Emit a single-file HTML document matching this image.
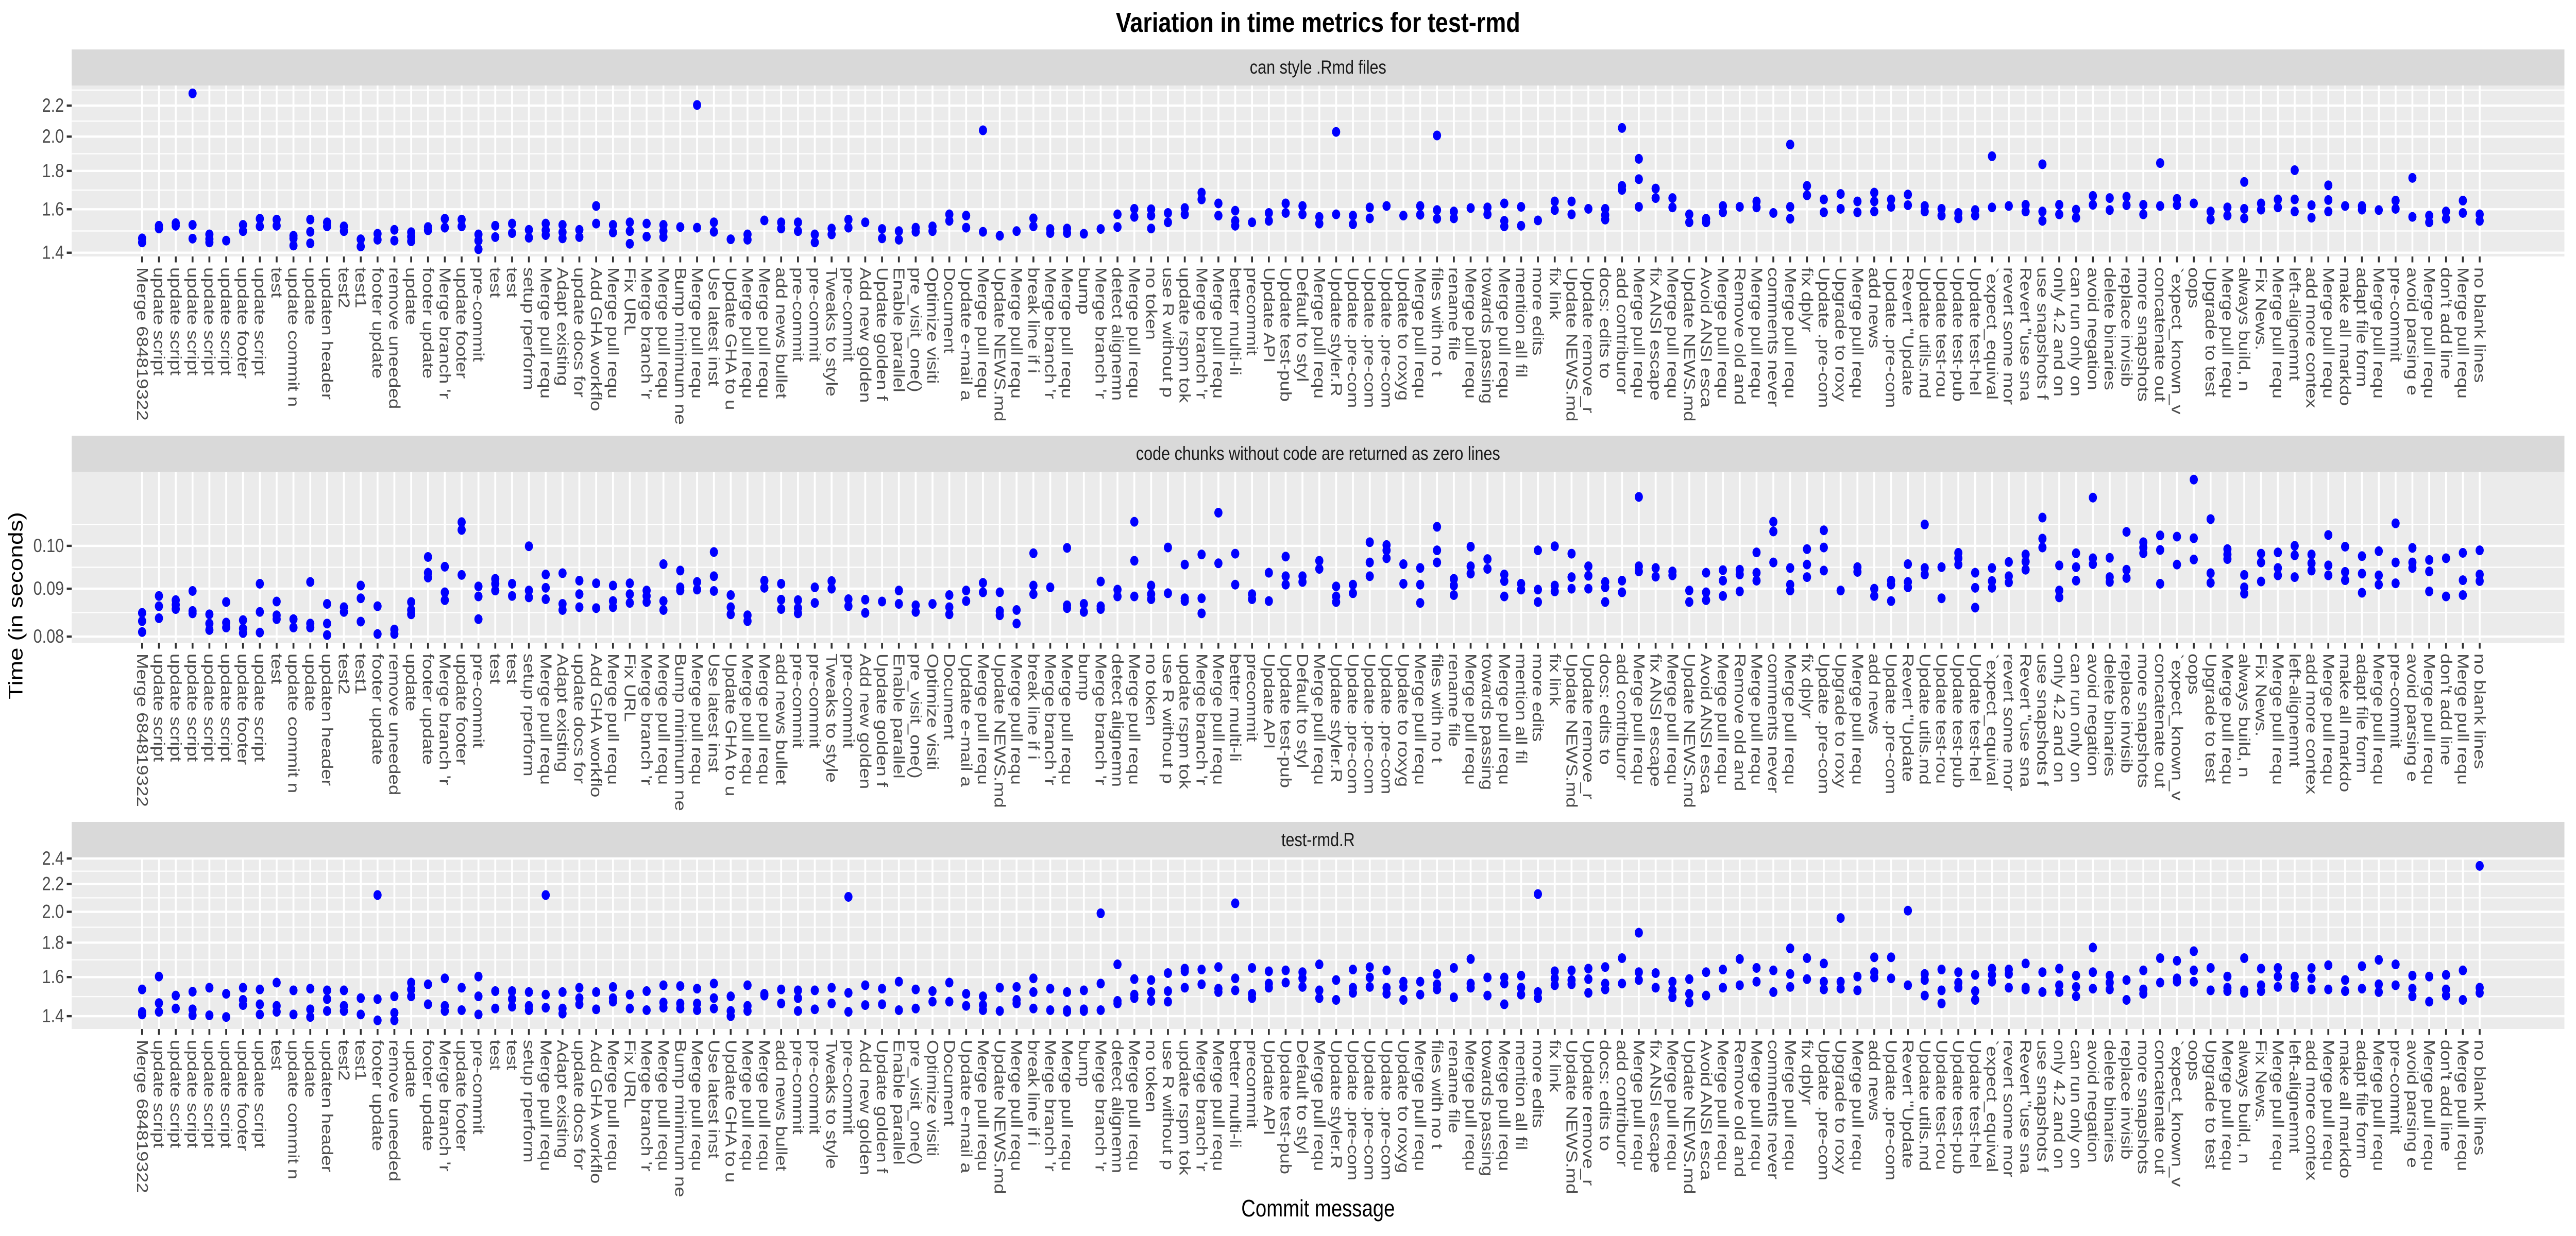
<!DOCTYPE html>
<html><head><meta charset="utf-8"><title>Variation in time metrics for test-rmd</title>
<style>html,body{margin:0;padding:0;background:#fff;width:100%;height:100%;overflow:hidden}svg{display:block;width:100vw;height:100vh}text{font-family:"Liberation Sans",sans-serif}</style>
</head><body>
<svg id="chart" xmlns="http://www.w3.org/2000/svg" viewBox="0 0 6000 2400" preserveAspectRatio="none">
<rect width="6000" height="2400" fill="#fff"/>
<text x="3070" y="62" text-anchor="middle" font-size="54" font-weight="bold" fill="#000">Variation in time metrics for test-rmd</text>
<text transform="translate(52,1176) rotate(-90)" text-anchor="middle" font-size="46" fill="#000">Time (in seconds)</text>
<text x="3070" y="2362" text-anchor="middle" font-size="46" fill="#000">Commit message</text>
<g id="panels"></g>
</svg>
<script>
const categories = ["Merge 684819322","update script","update script","update script","update script","update script","update footer","update script","test","update commit n","update","updaten header","test2","test1","footer update","remove uneeded","update","footer update","Merge branch 'r","update footer","pre-commit","test","test","setup rperform","Merge pull requ","Adapt existing","update docs for","Add GHA workflo","Merge pull requ","Fix URL","Merge branch 'r","Merge pull requ","Bump minimum ne","Merge pull requ","Use latest inst","Update GHA to u","Merge pull requ","Merge pull requ","add news bullet","pre-commit","pre-commit","Tweaks to style","pre-commit","Add new golden","Update golden f","Enable parallel","pre_visit_one()","Optimize visiti","Document","Update e-mail a","Merge pull requ","Update NEWS.md","Merge pull requ","break line if i","Merge branch 'r","Merge pull requ","bump","Merge branch 'r","detect alignemn","Merge pull requ","no token","use R without p","update rspm tok","Merge branch 'r","Merge pull requ","better multi-li","precommit","Update API","Update test-pub","Default to styl","Merge pull requ","Update styler.R","Update .pre-com","Update .pre-com","Update .pre-com","Update to roxyg","Merge pull requ","files with no t","rename file","Merge pull requ","towards passing","Merge pull requ","mention all fil","more edits","fix link","Update NEWS.md","Update remove_r","docs: edits to","add contriburor","Merge pull requ","fix ANSI escape","Merge pull requ","Update NEWS.md","Avoid ANSI esca","Merge pull requ","Remove old and","Merge pull requ","comments never","Merge pull requ","fix dplyr","Update .pre-com","Upgrade to roxy","Merge pull requ","add news","Update .pre-com","Revert \"Update","Update utils.md","Update test-rou","Update test-pub","Update test-hel","`expect_equival","revert some mor","Revert \"use sna","use snapshots f","only 4.2 and on","can run only on","avoid negation","delete binaries","replace invisib","more snapshots","concatenate out","`expect_known_v","oops","Upgrade to test","Merge pull requ","always build, n","Fix News.","Merge pull requ","left-alignemnt","add more contex","Merge pull requ","make all markdo","adapt file form","Merge pull requ","pre-commit","avoid parsing e","Merge pull requ","don't add line","Merge pull requ","no blank lines"];

const panelTitles = ["can style .Rmd files","code chunks without code are returned as zero lines","test-rmd.R"];
const rmdBreaks = [1.4,1.6,1.8,2.0,2.2];
const rmdTickLabels = ["1.4","1.6","1.8","2.0","2.2"];
const chunkBreaks = [0.08,0.09,0.10];
const chunkTickLabels = ["0.08","0.09","0.10"];
const testBreaks = [1.4,1.6,1.8,2.0,2.2,2.4];
const testTickLabels = ["1.4","1.6","1.8","2.0","2.2","2.4"];

const rmdTimes = [[1.463,1.445],[1.521,1.508],[1.533,1.521],[1.525,1.462,2.284],[1.481,1.460,1.445],[1.453],[1.525,1.496],[1.554,1.518],[1.550,1.521],[1.475,1.431,1.463],[1.550,1.493,1.441],[1.537,1.518],[1.518,1.496],[1.459,1.427],[1.484,1.457],[1.502,1.453],[1.491,1.471,1.450],[1.515,1.500],[1.554,1.512],[1.550,1.518],[1.481,1.453,1.415],[1.521,1.469],[1.531,1.487],[1.502,1.466],[1.531,1.500,1.478],[1.525,1.491,1.463],[1.502,1.469],[1.616,1.531],[1.525,1.490],[1.537,1.496,1.439],[1.531,1.471],[1.525,1.496,1.469],[1.515],[1.512,2.204],[1.537,1.493],[1.459],[1.481,1.457],[1.546],[1.537,1.508],[1.537,1.496],[1.481,1.445],[1.508,1.481],[1.550,1.512],[1.537],[1.506,1.463],[1.496,1.457],[1.512,1.493],[1.518,1.496],[1.575,1.544],[1.569,1.512],[1.493,2.039],[1.475],[1.496],[1.556,1.518],[1.506,1.487],[1.508,1.487],[1.484],[1.506],[1.575,1.515],[1.602,1.563],[1.600,1.569,1.508],[1.582,1.537],[1.606,1.575],[1.684,1.649],[1.629,1.569],[1.593,1.544,1.521],[1.537],[1.582,1.544],[1.629,1.582],[1.616,1.575],[1.563,1.531],[2.029,1.575],[1.569,1.528],[1.609,1.556],[1.616],[1.569],[1.616,1.573],[2.007,1.596,1.554],[1.589,1.556],[1.606],[1.609,1.575],[1.629,1.544,1.518],[1.612,1.521],[1.546],[1.639,1.596],[1.639,1.575],[1.602],[1.602,1.572,1.550],[2.054,1.719,1.698],[1.868,1.755,1.612],[1.705,1.656],[1.656,1.609],[1.575,1.537],[1.554,1.537],[1.616,1.585],[1.612],[1.639,1.609],[1.582],[1.952,1.612,1.554],[1.719,1.670],[1.649,1.585],[1.677,1.602],[1.639,1.585],[1.684,1.639,1.589],[1.649,1.612],[1.674,1.620],[1.616,1.589],[1.602,1.569],[1.582,1.556],[1.596,1.569],[1.883,1.609],[1.616],[1.622,1.589],[1.837,1.589,1.544],[1.622,1.575],[1.598,1.559],[1.667,1.622],[1.656,1.596],[1.663,1.620],[1.622,1.575],[1.844,1.616],[1.652,1.620],[1.629],[1.589,1.550],[1.609,1.569],[1.740,1.602,1.556],[1.629,1.598],[1.649,1.609],[1.804,1.649,1.589],[1.620,1.559],[1.722,1.646,1.589],[1.616],[1.616,1.598],[1.596],[1.643,1.602],[1.762,1.563],[1.569,1.537],[1.589,1.554],[1.643,1.582],[1.575,1.544]];

const chunkTimes = [[0.0848,0.0831,0.0809],[0.0884,0.0862,0.0837],[0.0875,0.0865,0.0856],[0.0895,0.0852,0.0847],[0.0845,0.0826,0.0813],[0.0871,0.0828,0.0818],[0.0833,0.0816,0.0807],[0.0911,0.0850,0.0808],[0.0872,0.0843,0.0835],[0.0835,0.0818],[0.0915,0.0826,0.0818],[0.0867,0.0826,0.0803],[0.0860,0.0850],[0.0907,0.0879,0.0830],[0.0862,0.0805],[0.0814,0.0805],[0.0871,0.0854,0.0845],[0.0973,0.0936,0.0925],[0.0950,0.0892,0.0875],[0.1060,0.1040,0.0931],[0.0905,0.0883,0.0835],[0.0922,0.0911,0.0896],[0.0911,0.0884],[0.0999,0.0896,0.0881],[0.0932,0.0902,0.0877],[0.0935,0.0867,0.0854],[0.0918,0.0888,0.0860],[0.0912,0.0858],[0.0907,0.0873,0.0860],[0.0912,0.0888,0.0869],[0.0896,0.0884,0.0871],[0.0956,0.0873,0.0854],[0.0941,0.0903,0.0896],[0.0915,0.0898],[0.0985,0.0928,0.0895],[0.0886,0.0860,0.0845],[0.0843,0.0831],[0.0918,0.0902],[0.0911,0.0876,0.0856],[0.0875,0.0858,0.0847],[0.0903,0.0869],[0.0917,0.0900],[0.0877,0.0862],[0.0876,0.0848],[0.0872],[0.0896,0.0867],[0.0864,0.0850],[0.0867],[0.0886,0.0860,0.0845],[0.0896,0.0873],[0.0913,0.0892],[0.0892,0.0852,0.0843],[0.0854,0.0826],[0.0982,0.0907,0.0888],[0.0903],[0.0995,0.0864,0.0858],[0.0867,0.0850],[0.0916,0.0862,0.0856],[0.0898,0.0883],[0.1061,0.0964,0.0883],[0.0907,0.0888,0.0877],[0.0996,0.0890],[0.0955,0.0879,0.0873],[0.0979,0.0879,0.0847],[0.1085,0.0958],[0.0981,0.0909],[0.0888,0.0877],[0.0936,0.0873],[0.0974,0.0928,0.0909],[0.0928,0.0915],[0.0964,0.0945],[0.0905,0.0883,0.0871],[0.0909,0.0890],[0.1009,0.0960,0.0928],[0.1002,0.0989,0.0970],[0.0956,0.0911],[0.0947,0.0909,0.0869],[0.1048,0.0989,0.0960],[0.0922,0.0907,0.0886],[0.0998,0.0951,0.0934],[0.0968,0.0945],[0.0932,0.0917,0.0883],[0.0911,0.0898],[0.0989,0.0898,0.0871],[0.0999,0.0907,0.0894],[0.0981,0.0926,0.0900],[0.0951,0.0929,0.0900],[0.0915,0.0903,0.0871],[0.0918,0.0892],[0.1128,0.0951,0.0939],[0.0947,0.0927],[0.0939,0.0930],[0.0896,0.0871],[0.0936,0.0892,0.0875],[0.0942,0.0918,0.0884],[0.0943,0.0932,0.0894],[0.0984,0.0936,0.0918],[0.1061,0.1036,0.0960],[0.0947,0.0909,0.0896],[0.0992,0.0955,0.0926],[0.1039,0.0996,0.0941],[0.0896],[0.0949,0.0938],[0.0900,0.0884],[0.0918,0.0909,0.0873],[0.0956,0.0915,0.0903],[0.1054,0.0947,0.0932],[0.0949,0.0879],[0.0983,0.0970,0.0955],[0.0936,0.0902,0.0859],[0.0947,0.0917,0.0902],[0.0961,0.0928,0.0914],[0.0979,0.0962,0.0943],[0.1072,0.1018,0.0996],[0.0953,0.0896,0.0881],[0.0982,0.0949,0.0918],[0.1126,0.0970,0.0956],[0.0971,0.0926,0.0915],[0.1035,0.0943,0.0924],[0.1009,0.0996,0.0982],[0.1026,0.0990,0.0911],[0.1023,0.0955],[0.1177,0.1019,0.0967],[0.1068,0.0935,0.0913],[0.0992,0.0979,0.0968],[0.0931,0.0903,0.0889],[0.0981,0.0960,0.0916],[0.0984,0.0947,0.0930],[0.1000,0.0977,0.0926],[0.0979,0.0958,0.0941],[0.1027,0.0953,0.0930],[0.0998,0.0938,0.0919],[0.0975,0.0934,0.0891],[0.0987,0.0930,0.0909],[0.1057,0.0960,0.0912],[0.0995,0.0960,0.0947],[0.0966,0.0939,0.0894],[0.0970,0.0883],[0.0983,0.0919,0.0886],[0.0989,0.0932,0.0917]];

const testTimes = [[1.534,1.420,1.408],[1.603,1.464,1.421],[1.502,1.437],[1.522,1.433,1.404],[1.543,1.404],[1.511,1.396],[1.543,1.480,1.454],[1.534,1.458,1.408],[1.570,1.450,1.421],[1.529,1.408],[1.538,1.433,1.396],[1.529,1.484,1.425],[1.529,1.450,1.425],[1.489,1.408],[2.118,1.484,1.380],[1.498,1.416,1.380],[1.570,1.534,1.498],[1.561,1.458],[1.593,1.450,1.425],[1.543,1.429],[1.603,1.498,1.408],[1.525,1.437],[1.525,1.484,1.446],[1.520,1.450,1.429],[2.118,1.507,1.441],[1.520,1.437,1.412],[1.543,1.489,1.458],[1.520,1.433],[1.547,1.489,1.471],[1.507,1.437],[1.525,1.429],[1.556,1.467,1.441],[1.552,1.462,1.437],[1.538,1.462,1.429],[1.565,1.489,1.437],[1.498,1.425,1.400],[1.556,1.450,1.425],[1.511,1.502],[1.534,1.462],[1.529,1.489,1.425],[1.529,1.433],[1.543,1.462],[2.105,1.516,1.421],[1.556,1.454],[1.538,1.458],[1.575,1.429],[1.534,1.437],[1.525,1.471],[1.570,1.471],[1.511,1.450],[1.498,1.454,1.429],[1.543,1.425],[1.547,1.480,1.462],[1.593,1.520,1.437],[1.538,1.429],[1.520,1.429,1.421],[1.529,1.433,1.425],[1.990,1.565,1.429],[1.671,1.475,1.462],[1.589,1.507,1.489],[1.584,1.520,1.475],[1.622,1.525,1.471],[1.647,1.632,1.543],[1.642,1.561],[1.656,1.538,1.520],[2.059,1.593,1.529],[1.651,1.511,1.489],[1.632,1.565,1.543],[1.637,1.570],[1.627,1.593,1.547],[1.671,1.529,1.489],[1.584,1.480],[1.642,1.543,1.516],[1.656,1.598,1.547],[1.637,1.543,1.511],[1.575,1.547,1.480],[1.575,1.507],[1.617,1.561,1.534],[1.651,1.493],[1.702,1.565,1.543],[1.598,1.502],[1.598,1.565,1.458],[1.608,1.543,1.507],[2.125,1.520,1.489],[1.632,1.593,1.556],[1.637,1.584,1.561],[1.647,1.589,1.516],[1.656,1.565,1.534],[1.707,1.565],[1.862,1.627,1.584],[1.622,1.543],[1.575,1.529,1.493],[1.589,1.511,1.467],[1.627,1.502],[1.642,1.543],[1.702,1.556],[1.651,1.575],[1.637,1.520],[1.765,1.617,1.547],[1.707,1.589],[1.676,1.575,1.534],[1.958,1.575,1.538],[1.603,1.529],[1.712,1.627,1.598],[1.712,1.593],[2.008,1.556],[1.617,1.584,1.502],[1.642,1.529,1.462],[1.627,1.570,1.543],[1.612,1.525,1.480],[1.647,1.612,1.575],[1.642,1.617,1.543],[1.676,1.543,1.534],[1.627,1.520],[1.647,1.556,1.520],[1.608,1.547,1.498],[1.770,1.627,1.538],[1.608,1.570,1.534],[1.584,1.480],[1.637,1.534,1.511],[1.707,1.570],[1.692,1.593,1.575],[1.748,1.637,1.575],[1.651,1.529],[1.603,1.543,1.525],[1.707,1.529,1.516],[1.647,1.556,1.525],[1.651,1.603,1.547],[1.603,1.561,1.543],[1.651,1.593,1.534],[1.666,1.534],[1.584,1.525],[1.661,1.538],[1.697,1.561,1.520],[1.671,1.556],[1.608,1.538,1.498],[1.603,1.471],[1.612,1.534,1.502],[1.637,1.480],[2.340,1.543,1.516]];

// layout (pixels, not data)
const PLOT_L = 167, PLOT_R = 5973, X0 = 331, XSTEP = 39.17;
const STRIP_H = 70, PLOT_H = 332;
const panels = [
  {top:96, ymin:1.384, ymax:2.34, breaks:rmdBreaks, labels:rmdTickLabels, data:rmdTimes, name:'rmd'},
  {top:846, ymin:0.0788, ymax:0.1200, breaks:chunkBreaks, labels:chunkTickLabels, data:chunkTimes, name:'chunk'},
  {top:1596, ymin:1.340, ymax:2.404, breaks:testBreaks, labels:testTickLabels, data:testTimes, name:'test'}
];
const NS = 'http://www.w3.org/2000/svg';
function mk(tag, attrs, parent){ const e=document.createElementNS(NS,tag); for(const k in attrs) e.setAttribute(k,attrs[k]); parent.appendChild(e); return e; }
function xScale(i){ return X0 + i*XSTEP; }
function yScale(p, v){ const pt=p.top+STRIP_H; const lmax=Math.log10(p.ymax), lmin=Math.log10(p.ymin); return pt + (lmax-Math.log10(v))/(lmax-lmin)*PLOT_H; }

const root = document.getElementById('panels');
panels.forEach((p, pi) => {
  const g = mk('g', {}, root);
  
  
  const pt = p.top + STRIP_H, pb = pt + PLOT_H;
  const strip = mk('rect', {x:PLOT_L, y:p.top, width:PLOT_R-PLOT_L, height:STRIP_H, fill:'#D9D9D9'}, g);
  
  
  const st = mk('text', {x:(PLOT_L+PLOT_R)/2, y:p.top+STRIP_H/2, 'text-anchor':'middle', 'dominant-baseline':'central', 'font-size':36.7, fill:'#1A1A1A'}, g);
  st.textContent = panelTitles[pi];
  
  
  const bg = mk('rect', {x:PLOT_L, y:pt, width:PLOT_R-PLOT_L, height:PLOT_H, fill:'#EBEBEB'}, g);
  
  
  const lb = p.breaks.map(Math.log10);
  const ext = [lb[0]-(lb[1]-lb[0])].concat(lb, [lb[lb.length-1]+(lb[lb.length-1]-lb[lb.length-2])]);
  for (let k=0;k<ext.length-1;k++){
    const v = Math.pow(10,(ext[k]+ext[k+1])/2);
    if (v<p.ymin || v>p.ymax) continue;
    const y = yScale(p, v);
    const ml = mk('line', {x1:PLOT_L, x2:PLOT_R, y1:y, y2:y, stroke:'#fff', 'stroke-width':2.2}, g);
    
    
  }
  p.breaks.forEach((b, bi) => {
    const y = yScale(p, b);
    const gl = mk('line', {x1:PLOT_L, x2:PLOT_R, y1:y, y2:y, stroke:'#fff', 'stroke-width':4.4}, g);
    
    
    const tk = mk('line', {x1:PLOT_L-11.5, x2:PLOT_L, y1:y, y2:y, stroke:'#333', 'stroke-width':4.4}, g);
    
    
    const tl = mk('text', {x:PLOT_L-18, y:y, 'text-anchor':'end', 'dominant-baseline':'central', 'font-size':36.7, fill:'#4D4D4D'}, g);
    tl.textContent = p.labels[bi];
    
    
  });
  categories.forEach((c, i) => {
    const x = xScale(i);
    const vl = mk('line', {x1:x, x2:x, y1:pt, y2:pb, stroke:'#fff', 'stroke-width':4.4}, g);
    
    
    const tk = mk('line', {x1:x, x2:x, y1:pb, y2:pb+11.5, stroke:'#333', 'stroke-width':4.4}, g);
    
    
    const tl = mk('text', {transform:'translate('+x+','+(pb+21)+') rotate(90)', 'text-anchor':'start', 'dominant-baseline':'central', 'font-size':36.7, fill:'#4D4D4D'}, g);
    tl.textContent = c;
    
    
  });
  p.data.forEach((vals, i) => {
    vals.forEach(v => {
      const pt2 = mk('circle', {cx:xScale(i), cy:yScale(p, v), r:9.5, fill:'#0000FF'}, g);
      
      
    });
  });
});
</script>
</body></html>
